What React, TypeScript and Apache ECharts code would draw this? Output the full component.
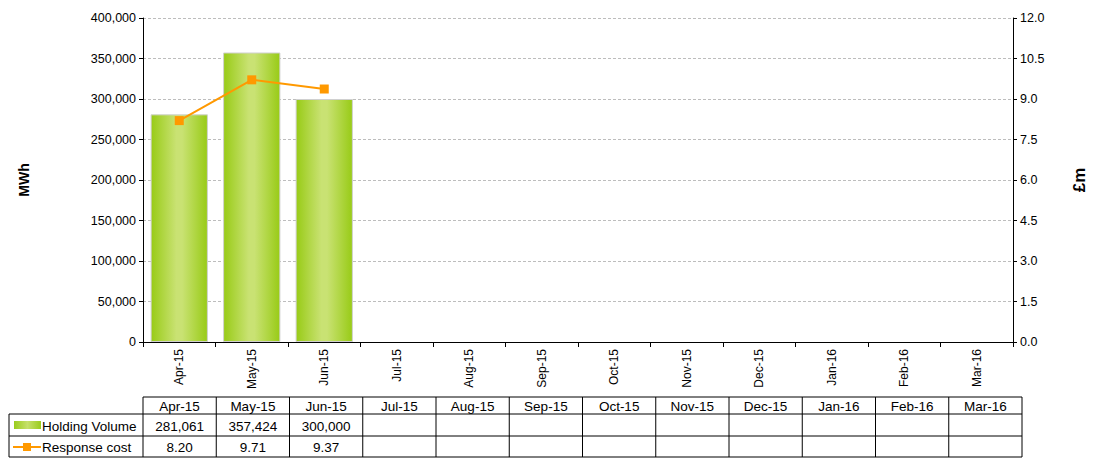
import React, { useEffect, useRef } from "react";
import * as echarts from "echarts";

const categories = ["Apr-15", "May-15", "Jun-15", "Jul-15", "Aug-15", "Sep-15", "Oct-15", "Nov-15", "Dec-15", "Jan-16", "Feb-16", "Mar-16"];
const holdingVolume: (number | null)[] = [281061, 357424, 300000, null, null, null, null, null, null, null, null, null];
const responseCost: (number | null)[] = [8.2, 9.71, 9.37, null, null, null, null, null, null, null, null, null];
const seriesNames = ["Holding Volume", "Response cost"];

const W = 1096;
const H = 458;
const GL = 143;
const GR = 1022;
const GT = 18;
const GB = 342;

const FONT = "'Liberation Sans', Arial, sans-serif";

export default function App() {
  const ref = useRef<HTMLDivElement>(null);
  useEffect(() => {
    if (!ref.current) return;
    const chart = echarts.init(ref.current, null, { renderer: "svg" });
    const n = categories.length;
    const cw = (GR - GL) / n;
    const tTop = 397, r1 = 414, r2 = 436, tBot = 457;
    const lc = "#000";
    const g: any[] = [];
    const line = (x1: number, y1: number, x2: number, y2: number) =>
      g.push({ type: "line", shape: { x1, y1, x2, y2 }, style: { stroke: lc, lineWidth: 1 }, silent: true });
    line(GL, tTop, GR, tTop);
    line(9, r1, GR, r1);
    line(9, r2, GR, r2);
    line(9, tBot, GR, tBot);
    line(9, r1, 9, tBot);
    for (let i = 0; i <= n; i++) line(GL + i * cw, tTop, GL + i * cw, tBot);
    const txt = (x: number, y: number, s: string, align = "center") =>
      g.push({ type: "text", x, y, style: { text: s, fill: "#000", font: `13.5px ${FONT}`, align, verticalAlign: "middle" }, silent: true });
    for (let i = 0; i < n; i++) {
      const cx = GL + (i + 0.5) * cw;
      txt(cx, (tTop + r1) / 2 + 1, categories[i]);
      const hv = holdingVolume[i];
      if (hv != null) txt(cx, (r1 + r2) / 2 + 1, hv.toLocaleString("en-US"));
      const rc = responseCost[i];
      if (rc != null) txt(cx, (r2 + tBot) / 2 + 1, rc.toFixed(2));
    }
    g.push({
      type: "rect", shape: { x: 14, y: 421, width: 27, height: 8 }, silent: true,
      style: { fill: new echarts.graphic.LinearGradient(0, 0, 1, 0, [{ offset: 0, color: "#9acc1c" }, { offset: 0.5, color: "#c6e06c" }, { offset: 1, color: "#9acc1c" }]) },
    });
    txt(42, (r1 + r2) / 2 + 1, seriesNames[0], "left");
    g.push({ type: "line", shape: { x1: 13, y1: 447, x2: 41, y2: 447 }, style: { stroke: "#ff9900", lineWidth: 2 }, silent: true });
    g.push({ type: "rect", shape: { x: 23, y: 443, width: 8, height: 8 }, style: { fill: "#ff9900" }, silent: true });
    txt(42, (r2 + tBot) / 2 + 1, seriesNames[1], "left");

    chart.setOption({
      animation: false,
      textStyle: { fontFamily: FONT },
      grid: { left: GL, right: W - GR, top: GT, bottom: H - GB, containLabel: false },
      xAxis: {
        type: "category",
        data: categories,
        axisLine: { lineStyle: { color: "#000", width: 1 } },
        axisTick: { show: true, alignWithLabel: false, lineStyle: { color: "#000" }, length: 5 },
        axisLabel: { rotate: 90, color: "#000", fontSize: 12, fontFamily: FONT, margin: 7, interval: 0 },
      },
      yAxis: [
        {
          type: "value", min: 0, max: 400000, interval: 50000,
          name: "MWh", nameLocation: "middle", nameGap: 112, nameRotate: 90,
          nameTextStyle: { color: "#000", fontSize: 14, fontWeight: "bold", fontFamily: FONT },
          axisLine: { show: true, lineStyle: { color: "#000" } },
          axisTick: { show: true, lineStyle: { color: "#000" }, length: 4 },
          axisLabel: { color: "#000", fontSize: 12.5, fontFamily: FONT, margin: 7, formatter: (v: number) => v.toLocaleString("en-US") },
          splitLine: { show: true, lineStyle: { color: "#bdbdbd", type: [3, 2], width: 1 } },
        },
        {
          type: "value", min: 0, max: 12, interval: 1.5, position: "right",
          name: "£m", nameLocation: "middle", nameGap: 58, nameRotate: 90,
          nameTextStyle: { color: "#000", fontSize: 17, fontWeight: "bold", fontFamily: FONT },
          axisLine: { show: true, lineStyle: { color: "#000" } },
          axisTick: { show: true, lineStyle: { color: "#000" }, length: 4 },
          axisLabel: { color: "#000", fontSize: 12.5, fontFamily: FONT, margin: 7, formatter: (v: number) => v.toFixed(1) },
          splitLine: { show: false },
        },
      ],
      series: [
        {
          name: seriesNames[0], type: "bar", data: holdingVolume, barWidth: "79%", yAxisIndex: 0,
          itemStyle: {
            color: new echarts.graphic.LinearGradient(0, 0, 1, 0, [
              { offset: 0, color: "#98cb16" }, { offset: 0.45, color: "#c9e273" }, { offset: 0.55, color: "#c9e273" }, { offset: 1, color: "#98cb16" },
            ]),
            borderColor: "#d0d0d0", borderWidth: 1,
          },
        },
        {
          name: seriesNames[1], type: "line", data: responseCost, yAxisIndex: 1,
          symbol: "rect", symbolSize: 9,
          lineStyle: { color: "#ff9900", width: 2 },
          itemStyle: { color: "#ff9900" },
        },
      ],
      graphic: g,
    });
    return () => chart.dispose();
  }, []);
  return <div ref={ref} style={{ width: W, height: H, position: "absolute", left: 0, top: 0 }} />;
}
